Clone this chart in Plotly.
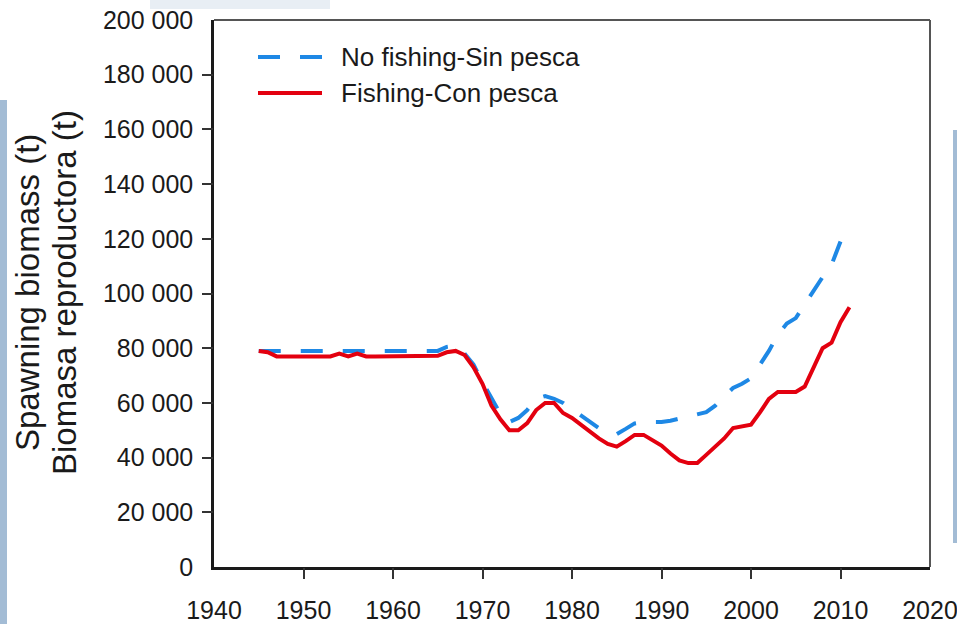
import plotly.graph_objects as go

# ---------------- data ----------------
years_fishing = list(range(1945, 2012))
fishing = [79000, 78500, 77000, 77000, 77000, 77000, 77000, 77000, 77000, 78000,
           77000, 78000, 77000, 77000, 77000, 77000, 77000, 77000, 77000, 77000,
           77200, 78500, 79000, 77500, 73000, 67000, 59000, 54000, 50000, 50000,
           52600, 57400, 60000, 60000, 56300, 54500, 52000, 49400, 47000, 45000,
           44000, 46000, 48300, 48300, 46300, 44400, 41500, 39000, 38000, 38000,
           41000, 44000, 47000, 50800, 51500, 52000, 56500, 61500, 64000, 64000,
           64000, 66000, 73000, 80000, 82000, 89500, 95000]

years_no_fishing = list(range(1945, 2011))
no_fishing = [79000] * 21 + [80500, 81000, 78000, 74000, 67600, 62000, 56000, 53000, 54500,
              57400, 61500, 62500, 61500, 60000, 57800, 55500, 53000, 50800, 49500,
              48600, 50500, 52500, 53000, 53000, 53000, 53500, 54200, 55000, 55800,
              56600, 59000, 62200, 65500, 67000, 69000, 74000, 79000, 85000, 89000,
              91000, 96000, 101500, 106000, 110500, 119000]

x_tick_values = [1940, 1950, 1960, 1970, 1980, 1990, 2000, 2010, 2020]
y_tick_values = [0, 20000, 40000, 60000, 80000, 100000, 120000, 140000, 160000, 180000, 200000]
legend_labels = ["No fishing-Sin pesca", "Fishing-Con pesca"]
y_title_lines = ["Spawning biomass (t)", "Biomasa reproductora (t)"]

# ---------------- layout helpers ----------------
W, H = 957, 624
L, R, T, B = 214, 27, 20, 57
PW, PH = W - L - R, H - T - B


def px(xp):
    return (xp - L) / PW


def py(yp):
    return (H - B - yp) / PH


BLUE = "#1E88E5"
RED = "#E3000F"
DASH = "22px,20px"
FONT = "Arial, Liberation Sans, sans-serif"
INK = "#1a1a1a"

fig = go.Figure()
fig.add_trace(go.Scatter(x=years_no_fishing, y=no_fishing, mode="lines",
                         name=legend_labels[0], showlegend=False,
                         line=dict(color=BLUE, width=4, dash=DASH)))
fig.add_trace(go.Scatter(x=years_fishing, y=fishing, mode="lines",
                         name=legend_labels[1], showlegend=False,
                         line=dict(color=RED, width=4)))
# empty helper trace to host the tick-only overlay axes
fig.add_trace(go.Scatter(x=[], y=[], xaxis="x2", yaxis="y2", showlegend=False,
                         hoverinfo="skip"))

axis_common = dict(showgrid=False, zeroline=False, automargin=False,
                   ticklabeloverflow="allow")
overlay_common = dict(ticks="outside", ticklen=11, tickwidth=1.5, tickcolor="#333",
                      showticklabels=False, showline=False, showgrid=False,
                      zeroline=False, automargin=False)

fig.update_layout(
    template="none",
    width=W, height=H,
    margin=dict(l=L, r=R, t=T, b=B, pad=0, autoexpand=False),
    paper_bgcolor="white", plot_bgcolor="white",
    separators=". ",
    showlegend=False,
    xaxis=dict(range=[1940, 2020], tickvals=x_tick_values, tickformat="d",
               ticks="outside", ticklen=11, tickcolor="rgba(0,0,0,0)", ticklabelstandoff=8,
               tickfont=dict(size=25, color=INK, family=FONT),
               showline=True, linecolor=INK, linewidth=2.5, **axis_common),
    yaxis=dict(range=[0, 200000], tickvals=y_tick_values, tickformat=",d",
               ticks="outside", ticklen=11, tickcolor="rgba(0,0,0,0)", ticklabelstandoff=2,
               tickfont=dict(size=25, color=INK, family=FONT),
               showline=True, linecolor=INK, linewidth=2.5, **axis_common),
    xaxis2=dict(overlaying="x", anchor="y2", range=[1940, 2020],
                tickvals=x_tick_values[1:-1], **overlay_common),
    yaxis2=dict(overlaying="y", anchor="x2", side="left", range=[0, 200000],
                tickvals=y_tick_values[1:-1], **overlay_common),
)

shapes = [
    # top and right frame
    dict(type="line", xref="paper", yref="paper", x0=0, x1=1, y0=1, y1=1,
         line=dict(color="#555", width=2)),
    dict(type="line", xref="paper", yref="paper", x0=1, x1=1, y0=0, y1=1,
         line=dict(color="#555", width=2)),
    # faint background strips of the slide
    dict(type="rect", xref="paper", yref="paper", x0=px(0), x1=px(7), y0=py(624), y1=py(100),
         fillcolor="#a3bcd5", line=dict(width=0), layer="below"),
    dict(type="rect", xref="paper", yref="paper", x0=px(953), x1=px(957), y0=py(543), y1=py(130),
         fillcolor="#a3bcd5", line=dict(width=0), layer="below"),
    dict(type="rect", xref="paper", yref="paper", x0=px(150), x1=px(330), y0=py(9), y1=py(0),
         fillcolor="#e8eef4", line=dict(width=0), layer="below"),
    # legend samples
    dict(type="line", xref="paper", yref="paper", x0=px(258), x1=px(322), y0=py(57), y1=py(57),
         line=dict(color=BLUE, width=4, dash=DASH)),
    dict(type="line", xref="paper", yref="paper", x0=px(258), x1=px(322), y0=py(93), y1=py(93),
         line=dict(color=RED, width=4)),
]
fig.update_layout(shapes=shapes)

annotations = [
    dict(xref="paper", yref="paper", x=px(339), y=py(57), xanchor="left", yanchor="middle",
         text=legend_labels[0], showarrow=False, font=dict(size=26, color=INK, family=FONT)),
    dict(xref="paper", yref="paper", x=px(339), y=py(93), xanchor="left", yanchor="middle",
         text=legend_labels[1], showarrow=False, font=dict(size=26, color=INK, family=FONT)),
    dict(xref="paper", yref="paper", x=px(27), y=py(293), xanchor="center", yanchor="middle",
         text=y_title_lines[0], textangle=-90, showarrow=False,
         font=dict(size=33, color=INK, family=FONT)),
    dict(xref="paper", yref="paper", x=px(64), y=py(293), xanchor="center", yanchor="middle",
         text=y_title_lines[1], textangle=-90, showarrow=False,
         font=dict(size=33, color=INK, family=FONT)),
]
fig.update_layout(annotations=annotations)

fig.write_html("out.html", config={"displayModeBar": False},
               post_script="document.body.style.margin='0';")
